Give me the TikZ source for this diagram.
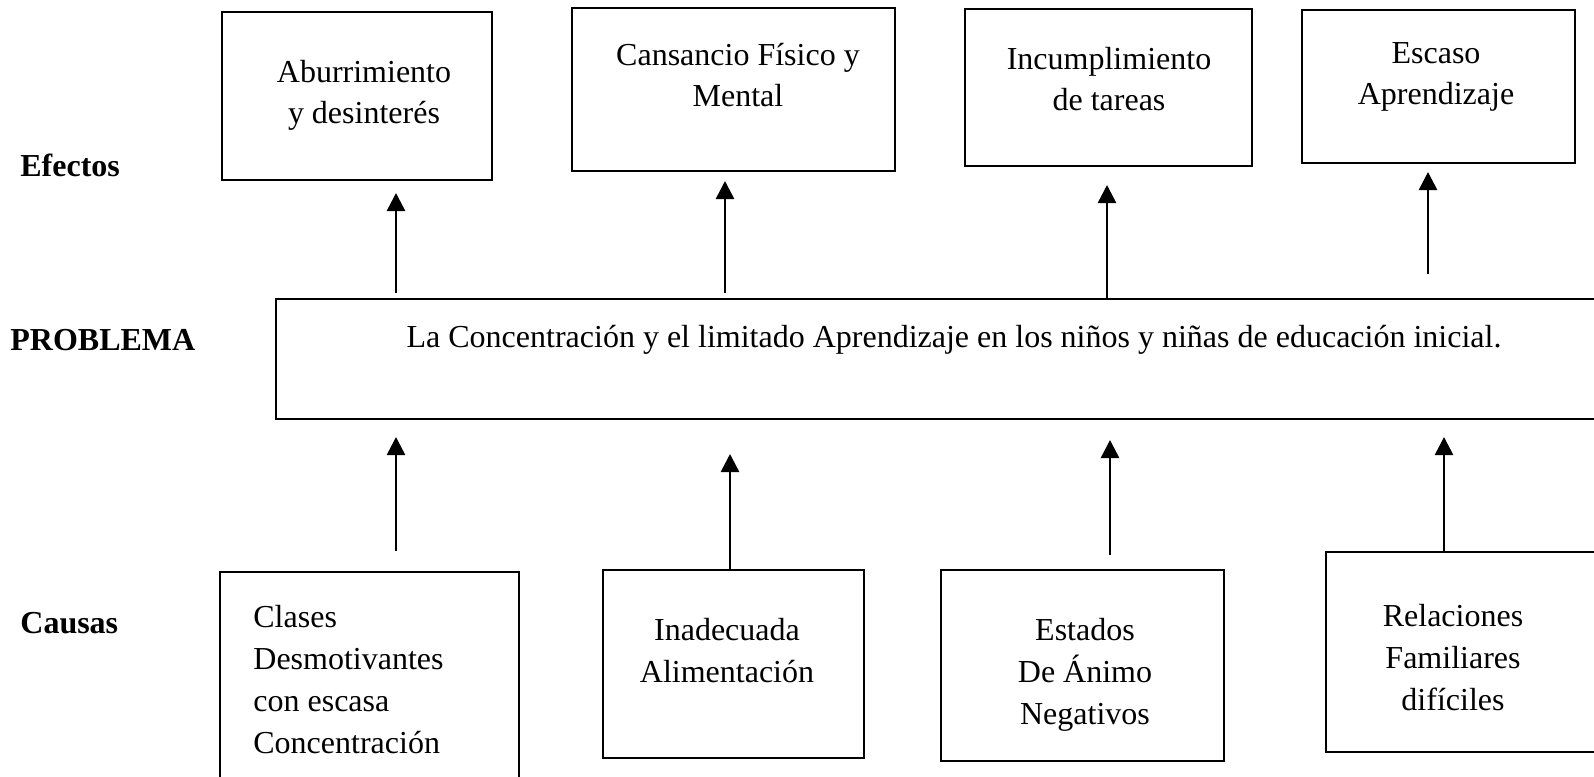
\documentclass[tikz,border=0pt]{standalone}
\usepackage{fontspec}
\setmainfont{Liberation Serif}
\usetikzlibrary{arrows.meta}
\begin{document}
\begin{tikzpicture}[x=0.5pt,y=-0.5pt,
  box/.style={draw,line width=1pt,inner sep=0pt,anchor=north west},
  txt/.style={align=center,inner sep=0pt,font=\fontsize{16}{20.5}\selectfont},
  lbl/.style={anchor=west,inner sep=0pt,font=\fontsize{16}{20}\selectfont\bfseries},
  arr/.style={line width=1.3pt,-{Triangle[length=9pt,width=9pt]}}]
\clip (0,0) rectangle (1594,776);
\fill[white] (0,0) rectangle (1594,776);
% labels
\node[lbl] (lefe) at (20,165) {Efectos};
\node[lbl] (lpro) at (10,340) {PROBLEMA};
\node[lbl] (lcau) at (20,623) {Causas};
% effect boxes
\node[box,minimum width=135pt,minimum height=84pt] (e1) at (221,11) {};
\node[box,minimum width=161.5pt,minimum height=81.5pt] (e2) at (571,7) {};
\node[box,minimum width=143.5pt,minimum height=78.5pt] (e3) at (964,8) {};
\node[box,minimum width=136.5pt,minimum height=76.5pt] (e4) at (1301,9) {};
\node[txt] (t1) at (364,95) {Aburrimiento\\y desinterés};
\node[txt] (t2) at (738,75) {Cansancio Físico y\\Mental};
\node[txt] (t3) at (1109,79) {Incumplimiento\\de tareas};
\node[txt] (t4) at (1436,77) {Escaso\\Aprendizaje};
% problem
\node[box,minimum width=672.5pt,minimum height=60pt] (prob) at (275,298) {};
\node[txt] (tp) at (954,340) {La Concentración y el limitado Aprendizaje en los niños y niñas de educación inicial.};
% cause boxes
\node[box,minimum width=149.5pt,minimum height=114.5pt] (c1) at (219,571) {};
\node[box,minimum width=130.5pt,minimum height=94pt] (c2) at (602,569) {};
\node[box,minimum width=141.5pt,minimum height=95.5pt] (c3) at (940,569) {};
\node[box,minimum width=147.5pt,minimum height=100pt] (c4) at (1325,551) {};
\node[txt,align=left,anchor=west,font=\fontsize{16}{21}\selectfont] (u1) at (253,680) {Clases\\Desmotivantes\\con escasa\\Concentración};
\node[txt,font=\fontsize{16}{21}\selectfont] (u2) at (727,651) {Inadecuada\\Alimentación};
\node[txt,font=\fontsize{16}{21}\selectfont] (u3) at (1085,675) {Estados\\De Ánimo\\Negativos};
\node[txt,font=\fontsize{16}{21}\selectfont] (u4) at (1453,658) {Relaciones\\Familiares\\difíciles};
% arrow coordinates
\coordinate (a1s) at (396,293); \coordinate (a1e) at (396,193);
\coordinate (a2s) at (725,293); \coordinate (a2e) at (725,181);
\coordinate (a3s) at (1107,298); \coordinate (a3e) at (1107,185);
\coordinate (a4s) at (1428,274); \coordinate (a4e) at (1428,172);
\coordinate (b1s) at (396,551); \coordinate (b1e) at (396,437);
\coordinate (b2s) at (730,569); \coordinate (b2e) at (730,454);
\coordinate (b3s) at (1110,555); \coordinate (b3e) at (1110,440);
\coordinate (b4s) at (1444,551); \coordinate (b4e) at (1444,437);
\draw[arr] (a1s) -- (a1e);
\draw[arr] (a2s) -- (a2e);
\draw[arr] (a3s) -- (a3e);
\draw[arr] (a4s) -- (a4e);
\draw[arr] (b1s) -- (b1e);
\draw[arr] (b2s) -- (b2e);
\draw[arr] (b3s) -- (b3e);
\draw[arr] (b4s) -- (b4e);
\end{tikzpicture}
\end{document}
